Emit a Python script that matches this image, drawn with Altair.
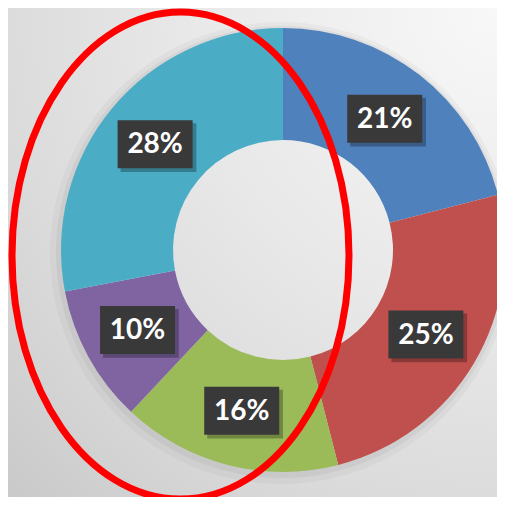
import altair as alt
import pandas as pd

# ---- data ----
labels = ["21%", "25%", "16%", "10%", "28%"]
values = [21, 25, 16, 10, 28]
colors = ["#4F81BD", "#C0504D", "#9BBB59", "#8064A2", "#4BACC6"]
order = [0, 1, 2, 3, 4]

df = pd.DataFrame({"label": labels, "value": values, "order": order})

W = H = 489
CX, CY = 275, 242
R_OUT, R_IN = 222, 110
R_LAB = 166

one = pd.DataFrame({"a": [0]})

bg = alt.Chart(one).mark_rect(
    fill=alt.RadialGradient(
        gradient="radial",
        stops=[
            alt.GradientStop(offset=0, color="#f8f8f8"),
            alt.GradientStop(offset=0.45, color="#e8e8e8"),
            alt.GradientStop(offset=0.7, color="#dcdcdc"),
            alt.GradientStop(offset=1, color="#c9c9c9"),
        ],
        x1=1, y1=0, r1=0, x2=1, y2=0, r2=1.42,
    )
).encode(x=alt.value(0), x2=alt.value(W), y=alt.value(0), y2=alt.value(H))

# soft outer shadow of the ring
shadow1 = alt.Chart(one).mark_arc(
    outerRadius=R_OUT + 9, innerRadius=R_OUT - 4, color="#000000", opacity=0.03
).encode(theta=alt.value(6.2832), x=alt.value(CX - 2), y=alt.value(CY + 3))
shadow2 = alt.Chart(one).mark_arc(
    outerRadius=R_OUT + 4, innerRadius=R_OUT - 4, color="#000000", opacity=0.045
).encode(theta=alt.value(6.2832), x=alt.value(CX - 1), y=alt.value(CY + 2))

base = alt.Chart(df)

arc = base.mark_arc(
    outerRadius=R_OUT, innerRadius=R_IN
).encode(
    theta=alt.Theta("value:Q", stack=True),
    color=alt.Color("label:N", scale=alt.Scale(domain=labels, range=colors), legend=None),
    order=alt.Order("order:Q"),
    x=alt.value(CX),
    y=alt.value(CY),
)

pos = base.transform_window(
    cum="sum(value)", sort=[alt.SortField("order")], frame=[None, 0]
).transform_joinaggregate(total="sum(value)").transform_calculate(
    mid="(datum.cum - datum.value/2) / datum.total * 2 * PI",
    lx=f"sin(datum.mid) * {R_LAB / R_OUT}",
    ly=f"-cos(datum.mid) * {R_LAB / R_OUT}",
)

xenc = alt.X("lx:Q", scale=alt.Scale(domain=[-1, 1], range=[CX - R_OUT, CX + R_OUT]), axis=None)
yenc = alt.Y("ly:Q", scale=alt.Scale(domain=[-1, 1], range=[CY - R_OUT, CY + R_OUT]), axis=None)

box_shadow = pos.mark_point(
    shape="M -0.92 -0.56 L 1.1 -0.56 L 1.1 0.74 L -0.92 0.74 Z",
    filled=True, color="#000000", opacity=0.28, size=5625,
).encode(x=xenc, y=yenc)

box = pos.mark_point(
    shape="M -1 -0.64 L 1 -0.64 L 1 0.64 L -1 0.64 Z",
    filled=True, color="#393939", opacity=1, size=5625,
).encode(x=xenc, y=yenc)

text = pos.mark_text(
    font="Lato", fontSize=28, fontWeight="bold", color="white",
    align="center", baseline="middle", dy=1,
).encode(x=xenc, y=yenc, text="label:N")

k = 0.5523
a = 168.5 / 243.5
ka = k * a
ell_path = (
    f"M 0 -1 C {ka:.4f} -1 {a:.4f} -{k} {a:.4f} 0 "
    f"C {a:.4f} {k} {ka:.4f} 1 0 1 "
    f"C -{ka:.4f} 1 -{a:.4f} {k} -{a:.4f} 0 "
    f"C -{a:.4f} -{k} -{ka:.4f} -1 0 -1 Z"
)
ellipse = alt.Chart(one).mark_point(
    shape=ell_path, filled=False, stroke="#ff0000", strokeWidth=7, opacity=1,
    size=(2 * 243.5) ** 2,
).encode(x=alt.value(172.5), y=alt.value(247.5))

chart = alt.layer(bg, shadow1, shadow2, arc, box_shadow, box, text, ellipse).properties(
    width=W, height=H, padding=0, autosize=alt.AutoSizeParams(type="none")
).configure_view(stroke=None)

chart.save("out.html", embed_options={"renderer": "svg", "actions": False})
